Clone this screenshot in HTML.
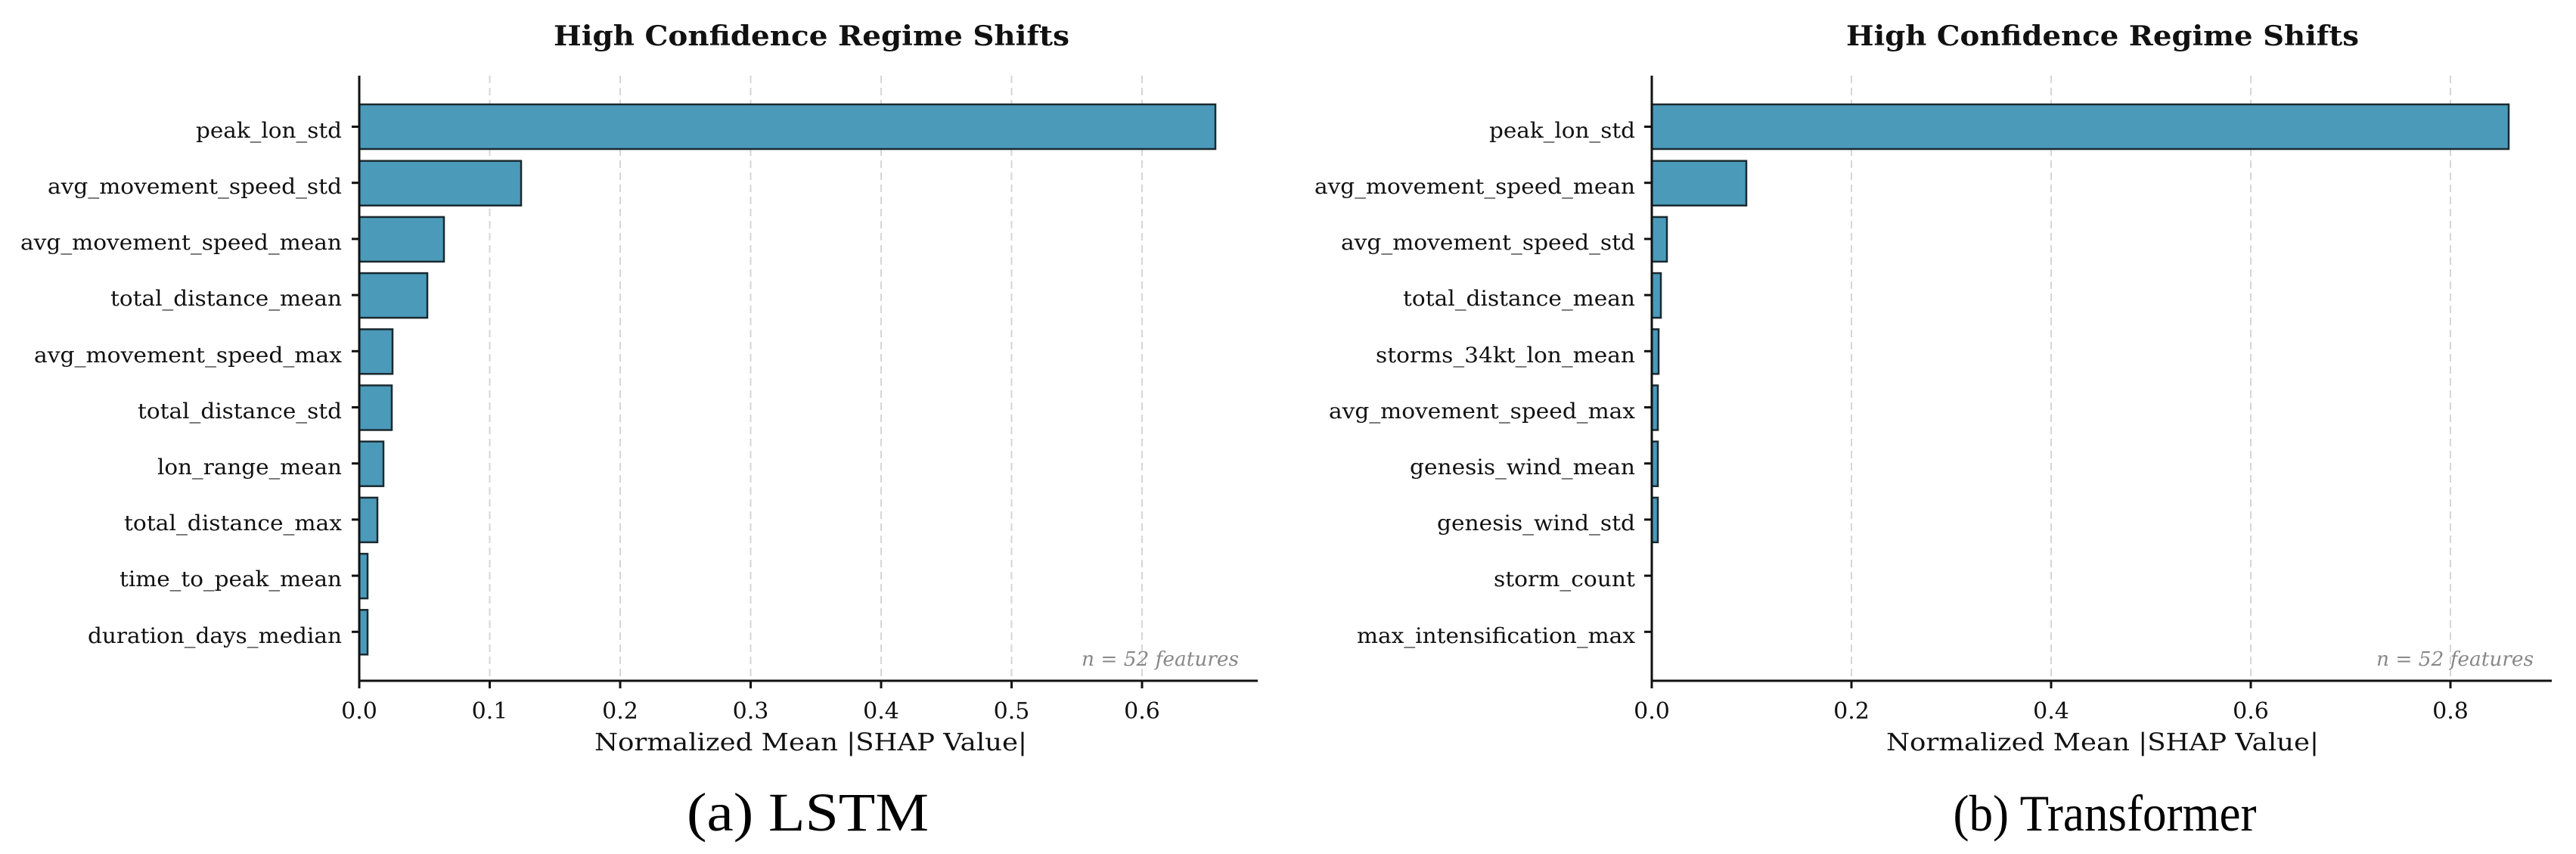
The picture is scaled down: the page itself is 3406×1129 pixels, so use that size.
<!DOCTYPE html>
<html><head><meta charset="utf-8"><style>
html,body{margin:0;padding:0;background:#fff;}
svg{display:block;}
.t{font-family:"DejaVu Serif","Liberation Serif",serif;fill:#111;}
.cap{font-family:"Liberation Serif",serif;fill:#000;}
</style></head><body>
<svg width="3406" height="1129" viewBox="0 0 3406 1129" xmlns="http://www.w3.org/2000/svg">
<rect width="3406" height="1129" fill="#fff"/>
<!-- LEFT PANEL -->
<g stroke="#d6d6d6" stroke-width="2" stroke-dasharray="10,6">
<line x1="647.5" y1="100" x2="647.5" y2="900"/><line x1="820" y1="100" x2="820" y2="900"/>
<line x1="992.5" y1="100" x2="992.5" y2="900"/><line x1="1165" y1="100" x2="1165" y2="900"/>
<line x1="1337.5" y1="100" x2="1337.5" y2="900"/><line x1="1510" y1="100" x2="1510" y2="900"/>
</g>
<g fill="#4b9aba" stroke="#1b2a30" stroke-width="2.5">
<rect x="475" y="138" width="1132" height="59"/>
<rect x="475" y="212.7" width="214" height="59"/>
<rect x="475" y="286.9" width="112" height="59"/>
<rect x="475" y="361.1" width="90" height="59"/>
<rect x="475" y="435.3" width="44" height="59"/>
<rect x="475" y="509.5" width="43" height="59"/>
<rect x="475" y="583.7" width="32" height="59"/>
<rect x="475" y="657.9" width="24" height="59"/>
<rect x="475" y="732.1" width="11" height="59"/>
<rect x="475" y="806.3" width="11" height="59"/>
</g>
<g stroke="#111" stroke-width="3">
<line x1="475" y1="100" x2="475" y2="901.5"/>
<line x1="473.5" y1="900" x2="1663" y2="900"/>
<line x1="465" y1="167.5" x2="475" y2="167.5"/><line x1="465" y1="241.7" x2="475" y2="241.7"/>
<line x1="465" y1="315.9" x2="475" y2="315.9"/><line x1="465" y1="390.1" x2="475" y2="390.1"/>
<line x1="465" y1="464.3" x2="475" y2="464.3"/><line x1="465" y1="538.5" x2="475" y2="538.5"/>
<line x1="465" y1="612.7" x2="475" y2="612.7"/><line x1="465" y1="686.9" x2="475" y2="686.9"/>
<line x1="465" y1="761.1" x2="475" y2="761.1"/><line x1="465" y1="835.3" x2="475" y2="835.3"/>
<line x1="475" y1="900" x2="475" y2="910"/><line x1="647.5" y1="900" x2="647.5" y2="910"/>
<line x1="820" y1="900" x2="820" y2="910"/><line x1="992.5" y1="900" x2="992.5" y2="910"/>
<line x1="1165" y1="900" x2="1165" y2="910"/><line x1="1337.5" y1="900" x2="1337.5" y2="910"/>
<line x1="1510" y1="900" x2="1510" y2="910"/>
</g>
<g class="t" font-size="28" text-anchor="end">
<text x="452" y="182" textLength="193" lengthAdjust="spacingAndGlyphs">peak_lon_std</text>
<text x="452" y="256" textLength="389" lengthAdjust="spacingAndGlyphs">avg_movement_speed_std</text>
<text x="452" y="330" textLength="425" lengthAdjust="spacingAndGlyphs">avg_movement_speed_mean</text>
<text x="452" y="404" textLength="306" lengthAdjust="spacingAndGlyphs">total_distance_mean</text>
<text x="452" y="479" textLength="407" lengthAdjust="spacingAndGlyphs">avg_movement_speed_max</text>
<text x="452" y="553" textLength="270" lengthAdjust="spacingAndGlyphs">total_distance_std</text>
<text x="452" y="627" textLength="244" lengthAdjust="spacingAndGlyphs">lon_range_mean</text>
<text x="452" y="701" textLength="288" lengthAdjust="spacingAndGlyphs">total_distance_max</text>
<text x="452" y="775" textLength="294" lengthAdjust="spacingAndGlyphs">time_to_peak_mean</text>
<text x="452" y="850" textLength="336" lengthAdjust="spacingAndGlyphs">duration_days_median</text>
</g>
<g class="t" font-size="30" text-anchor="middle">
<text x="475" y="950">0.0</text><text x="647.5" y="950">0.1</text><text x="820" y="950">0.2</text>
<text x="992.5" y="950">0.3</text><text x="1165" y="950">0.4</text><text x="1337.5" y="950">0.5</text>
<text x="1510" y="950">0.6</text>
</g>
<text class="t" x="1072" y="992" font-size="32" text-anchor="middle" textLength="572" lengthAdjust="spacingAndGlyphs">Normalized Mean |SHAP Value|</text>
<text class="t" x="1073" y="60" font-size="36" font-weight="bold" text-anchor="middle" textLength="682" lengthAdjust="spacingAndGlyphs">High Confidence Regime Shifts</text>
<text class="t" x="1638" y="880" font-size="26" font-style="italic" style="fill:#888" text-anchor="end" textLength="208" lengthAdjust="spacingAndGlyphs">n = 52 features</text>
<text class="cap" x="1068" y="1098" font-size="72" text-anchor="middle" textLength="320" lengthAdjust="spacingAndGlyphs">(a)  LSTM</text>

<!-- RIGHT PANEL -->
<g stroke="#d6d6d6" stroke-width="2" stroke-dasharray="10,6">
<line x1="2448" y1="100" x2="2448" y2="900"/><line x1="2712" y1="100" x2="2712" y2="900"/>
<line x1="2976" y1="100" x2="2976" y2="900"/><line x1="3240" y1="100" x2="3240" y2="900"/>
</g>
<g fill="#4b9aba" stroke="#1b2a30" stroke-width="2.5">
<rect x="2184" y="138" width="1133" height="59"/>
<rect x="2184" y="212.7" width="125" height="59"/>
<rect x="2184" y="286.9" width="20" height="59"/>
<rect x="2184" y="361.1" width="12" height="59"/>
<rect x="2184" y="435.3" width="9" height="59"/>
<rect x="2184" y="509.5" width="8" height="59"/>
<rect x="2184" y="583.7" width="8" height="59"/>
<rect x="2184" y="657.9" width="8" height="59"/>
</g>
<g stroke="#111" stroke-width="3">
<line x1="2184" y1="100" x2="2184" y2="901.5"/>
<line x1="2182.5" y1="900" x2="3374" y2="900"/>
<line x1="2174" y1="167.5" x2="2184" y2="167.5"/><line x1="2174" y1="241.7" x2="2184" y2="241.7"/>
<line x1="2174" y1="315.9" x2="2184" y2="315.9"/><line x1="2174" y1="390.1" x2="2184" y2="390.1"/>
<line x1="2174" y1="464.3" x2="2184" y2="464.3"/><line x1="2174" y1="538.5" x2="2184" y2="538.5"/>
<line x1="2174" y1="612.7" x2="2184" y2="612.7"/><line x1="2174" y1="686.9" x2="2184" y2="686.9"/>
<line x1="2174" y1="761.1" x2="2184" y2="761.1"/><line x1="2174" y1="835.3" x2="2184" y2="835.3"/>
<line x1="2184" y1="900" x2="2184" y2="910"/><line x1="2448" y1="900" x2="2448" y2="910"/>
<line x1="2712" y1="900" x2="2712" y2="910"/><line x1="2976" y1="900" x2="2976" y2="910"/>
<line x1="3240" y1="900" x2="3240" y2="910"/>
</g>
<g class="t" font-size="28" text-anchor="end">
<text x="2162" y="182" textLength="193" lengthAdjust="spacingAndGlyphs">peak_lon_std</text>
<text x="2162" y="256" textLength="424" lengthAdjust="spacingAndGlyphs">avg_movement_speed_mean</text>
<text x="2162" y="330" textLength="389" lengthAdjust="spacingAndGlyphs">avg_movement_speed_std</text>
<text x="2162" y="404" textLength="307" lengthAdjust="spacingAndGlyphs">total_distance_mean</text>
<text x="2162" y="479" textLength="343" lengthAdjust="spacingAndGlyphs">storms_34kt_lon_mean</text>
<text x="2162" y="553" textLength="405" lengthAdjust="spacingAndGlyphs">avg_movement_speed_max</text>
<text x="2162" y="627" textLength="298" lengthAdjust="spacingAndGlyphs">genesis_wind_mean</text>
<text x="2162" y="701" textLength="262" lengthAdjust="spacingAndGlyphs">genesis_wind_std</text>
<text x="2162" y="775" textLength="187" lengthAdjust="spacingAndGlyphs">storm_count</text>
<text x="2162" y="850" textLength="368" lengthAdjust="spacingAndGlyphs">max_intensification_max</text>
</g>
<g class="t" font-size="30" text-anchor="middle">
<text x="2184" y="950">0.0</text><text x="2448" y="950">0.2</text><text x="2712" y="950">0.4</text>
<text x="2976" y="950">0.6</text><text x="3240" y="950">0.8</text>
</g>
<text class="t" x="2780" y="992" font-size="32" text-anchor="middle" textLength="572" lengthAdjust="spacingAndGlyphs">Normalized Mean |SHAP Value|</text>
<text class="t" x="2780" y="60" font-size="36" font-weight="bold" text-anchor="middle" textLength="678" lengthAdjust="spacingAndGlyphs">High Confidence Regime Shifts</text>
<text class="t" x="3350" y="880" font-size="26" font-style="italic" style="fill:#888" text-anchor="end" textLength="208" lengthAdjust="spacingAndGlyphs">n = 52 features</text>
<text class="cap" x="2783" y="1098" font-size="68" text-anchor="middle" textLength="401" lengthAdjust="spacingAndGlyphs">(b)  Transformer</text>
</svg>
</body></html>
